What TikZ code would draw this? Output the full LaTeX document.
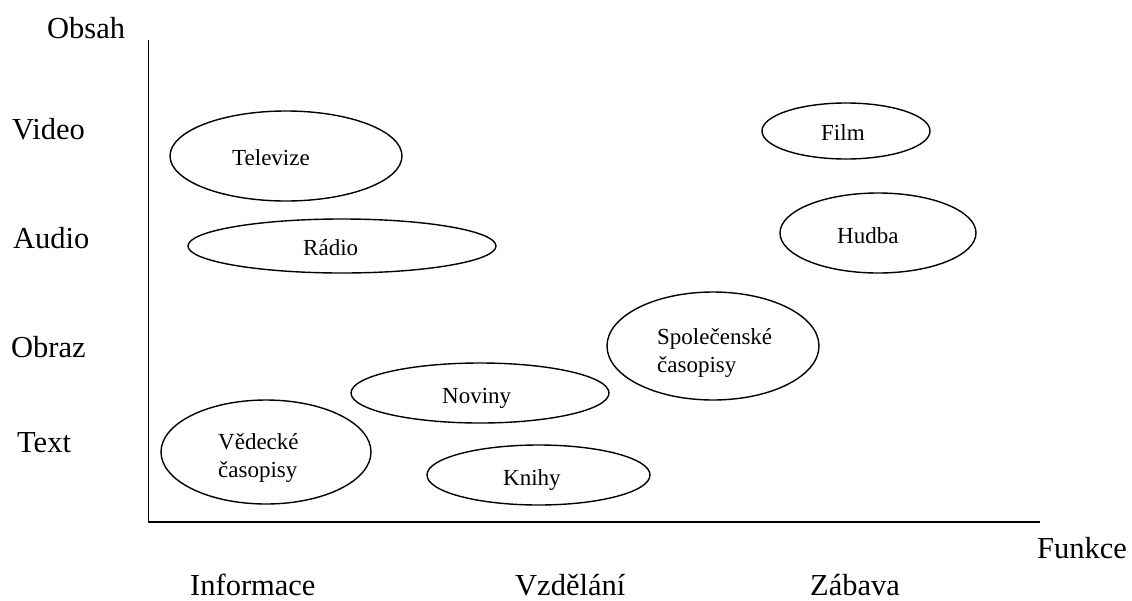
\documentclass[tikz,border=0pt]{standalone}
\usepackage{fontspec}
\setmainfont{Liberation Serif}
\usetikzlibrary{shapes.geometric}
\begin{document}
\begin{tikzpicture}[x=1pt,y=-1pt,
  axis/.style={line width=1.8pt},
  ell/.style={draw, line width=1.4pt, ellipse, inner sep=0pt},
  big/.style={font=\fontsize{30.5}{34}\selectfont, inner sep=0pt, anchor=base west},
  lbl/.style={font=\fontsize{23}{28}\selectfont, inner sep=0pt, anchor=base west, align=left}]
\useasboundingbox (0,0) rectangle (1132,600);
% axes
\coordinate (top) at (148.5,40);
\coordinate (origin) at (148.5,522);
\coordinate (right) at (1040,522);
\draw[axis] (top) -- (origin) -- (right);
% axis labels
\node[big] (obsah) at (47,38) {Obsah};
\node[big] (video) at (12,139) {Video};
\node[big] (audio) at (13,248) {Audio};
\node[big] (obraz) at (11,357) {Obraz};
\node[big] (text) at (17,452) {Text};
\node[big] (funkce) at (1037,558) {Funkce};
\node[big] (info) at (190,595) {Informace};
\node[big] (vzd) at (515,595) {Vzdělání};
\node[big] (zab) at (810,595) {Zábava};
% ellipses
\node[ell, minimum width=232, minimum height=90] (tv) at (286,156) {};
\node[ell, minimum width=308, minimum height=54] (radio) at (342,246) {};
\node[ell, minimum width=168, minimum height=56] (film) at (846,131) {};
\node[ell, minimum width=196, minimum height=80] (hudba) at (878,233) {};
\node[ell, minimum width=212, minimum height=108] (spol) at (713,346) {};
\node[ell, minimum width=258, minimum height=60] (noviny) at (480,393) {};
\node[ell, minimum width=210, minimum height=104] (ved) at (266,452) {};
\node[ell, minimum width=223, minimum height=60] (knihy) at (538.5,475) {};
% labels
\node[lbl] (tvl) at (232,165) {Televize};
\node[lbl] (radiol) at (303,255) {Rádio};
\node[lbl] (filml) at (821,140) {Film};
\node[lbl] (hudbal) at (837,243) {Hudba};
\node[lbl] (novinyl) at (442,403) {Noviny};
\node[lbl] (knihyl) at (503,485) {Knihy};
\node[lbl] (vedl) at (218,477) {Vědecké\\časopisy};
\node[lbl] (spoll) at (657,372) {Společenské\\časopisy};
\end{tikzpicture}
\end{document}
